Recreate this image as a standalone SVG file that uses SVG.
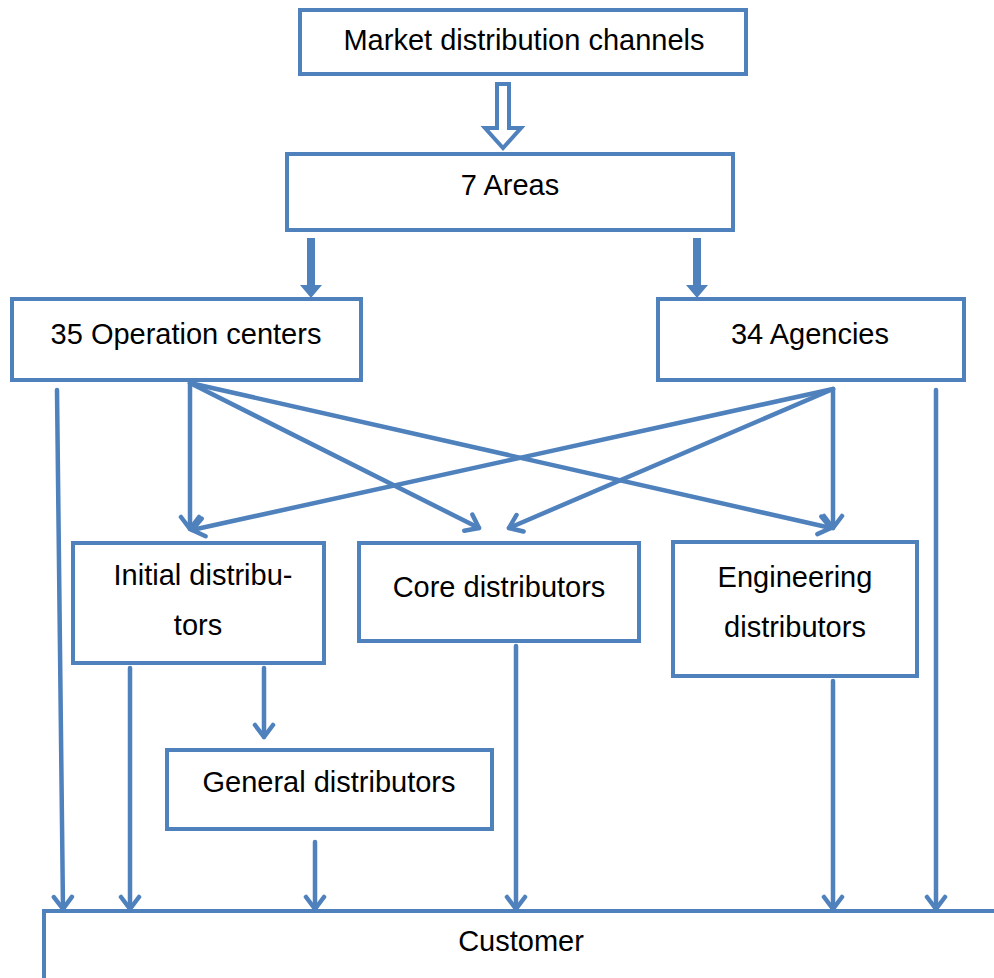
<svg xmlns="http://www.w3.org/2000/svg" width="994" height="978" viewBox="0 0 994 978">
  <style>
    .box { fill: #fff; stroke: #4F81BD; stroke-width: 4; }
    .lbl { font-family: "Liberation Sans", Arial, sans-serif; font-size: 29px; fill: #000; text-anchor: middle; }
    .ln { fill: none; stroke: #4F81BD; stroke-width: 4.5; stroke-linecap: round; marker-end: url(#head); }
    .solid { fill: #4F81BD; stroke: none; }
  </style>
  <defs>
    <marker id="head" markerUnits="userSpaceOnUse" viewBox="-16 -12 20 24" markerWidth="20" markerHeight="24" refX="0" refY="0" orient="auto">
      <path d="M-12,-9 L0,0 L-12,9" fill="none" stroke="#4F81BD" stroke-width="4.5" stroke-linecap="round" stroke-linejoin="round"/>
    </marker>
  </defs>

  <g id="market">
    <rect class="box" x="300" y="10" width="446" height="64"/>
    <text class="lbl" x="524" y="50">Market distribution channels</text>
  </g>

  <g id="areas">
    <rect class="box" x="287" y="154" width="446" height="76"/>
    <text class="lbl" x="510" y="195">7 Areas</text>
  </g>

  <g id="operation-centers">
    <rect class="box" x="12" y="299" width="349" height="81"/>
    <text class="lbl" x="186" y="344">35 Operation centers</text>
  </g>

  <g id="agencies">
    <rect class="box" x="658" y="299" width="306" height="81"/>
    <text class="lbl" x="810" y="344">34 Agencies</text>
  </g>

  <g id="initial">
    <rect class="box" x="73" y="543" width="251" height="120"/>
    <text class="lbl" x="203" y="585">Initial distribu-</text>
    <text class="lbl" x="198" y="635">tors</text>
  </g>

  <g id="core">
    <rect class="box" x="359" y="543" width="280" height="98"/>
    <text class="lbl" x="499" y="597">Core distributors</text>
  </g>

  <g id="engineering">
    <rect class="box" x="673" y="542" width="244" height="134"/>
    <text class="lbl" x="795" y="587">Engineering</text>
    <text class="lbl" x="795" y="637">distributors</text>
  </g>

  <g id="general">
    <rect class="box" x="167" y="750" width="325" height="79"/>
    <text class="lbl" x="329" y="792">General distributors</text>
  </g>

  <g id="customer">
    <path d="M44,978 L44,911 L1000,911" fill="none" stroke="#4F81BD" stroke-width="4"/>
    <text class="lbl" x="521" y="951">Customer</text>
  </g>

  <g id="connectors">
    <!-- hollow block arrow -->
    <path d="M497,84 L509,84 L509,128 L521,128 L503,148 L485,128 L497,128 Z" fill="#fff" stroke="#4F81BD" stroke-width="4" stroke-linejoin="miter"/>
    <!-- thick block arrows -->
    <path class="solid" d="M307,238 L315,238 L315,285 L322,285 L311,298 L300,285 L307,285 Z"/>
    <path class="solid" d="M693,238 L701,238 L701,285 L708,285 L697,298 L686,285 L693,285 Z"/>
    <!-- from operation centers -->
    <line class="ln" x1="57" y1="390" x2="63" y2="909"/>
    <line class="ln" x1="190" y1="383" x2="190" y2="529"/>
    <line class="ln" x1="190" y1="383" x2="479" y2="528"/>
    <line class="ln" x1="190" y1="383" x2="831" y2="528"/>
    <!-- from agencies -->
    <line class="ln" x1="833" y1="389" x2="192" y2="530"/>
    <line class="ln" x1="833" y1="389" x2="509" y2="528"/>
    <line class="ln" x1="833" y1="389" x2="833" y2="528"/>
    <line class="ln" x1="936" y1="390" x2="936" y2="909"/>
    <!-- to customer -->
    <line class="ln" x1="130" y1="668" x2="130" y2="909"/>
    <line class="ln" x1="264" y1="668" x2="264" y2="737"/>
    <line class="ln" x1="315" y1="842" x2="315" y2="909"/>
    <line class="ln" x1="516" y1="646" x2="516" y2="909"/>
    <line class="ln" x1="833" y1="681" x2="833" y2="909"/>
  </g>
</svg>
